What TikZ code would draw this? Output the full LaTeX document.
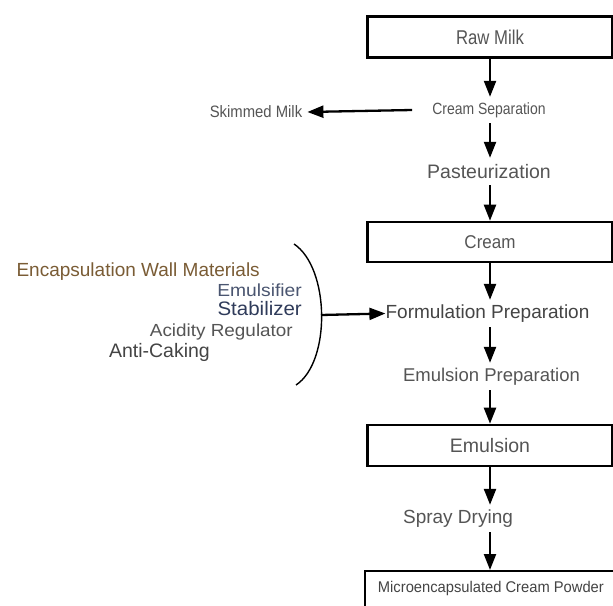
\documentclass[tikz,border=0pt]{standalone}
\usepackage{fontspec}
\setmainfont{Liberation Sans}
\usetikzlibrary{arrows.meta}
\definecolor{txt}{HTML}{555555}
\definecolor{dtxt}{HTML}{444444}
\definecolor{brownish}{HTML}{7A5C35}
\definecolor{slate}{HTML}{4A5570}
\definecolor{dslate}{HTML}{2F3B5A}
\newcommand{\fs}[1]{\fontsize{#1}{#1}\selectfont}
\begin{document}
\begin{tikzpicture}[x=1pt,y=-1pt,
  box/.style={draw=black,line width=2.6pt,minimum width=245pt,minimum height=41pt,inner sep=0pt,text=txt},
  lbl/.style={inner sep=0pt,minimum height=27pt,text=txt},
  side/.style={inner sep=0pt,anchor=east},
  arr/.style={line width=2.3pt,-{Triangle[width=12pt,length=16pt]}}]
\useasboundingbox (0,0) rectangle (613,605);
\clip (0,0) rectangle (613,605);
\fill[white] (0,0) rectangle (613,605);

\node[box] (raw) at (490,37) {\scalebox{0.88}[1.05]{\fs{19}Raw Milk}};
\node[lbl,minimum height=26pt] (cs) at (489,110) {\scalebox{0.9}[1.05]{\fs{15.5}Cream Separation}};
\node[lbl] (past) at (489,171.5) {\fs{19.5}Pasteurization};
\node[box,minimum height=40pt] (cream) at (490,242) {\scalebox{0.92}[1]{\fs{18.5}Cream}};
\node[lbl,text=dtxt] (form) at (487.5,313.5) {\fs{19}Formulation Preparation};
\node[lbl] (ep) at (491.5,376.5) {\fs{18.5}Emulsion Preparation};
\node[box] (emul) at (490,445.5) {\fs{19.5}Emulsion};
\node[lbl] (sd) at (458,518.5) {\fs{19}Spray Drying};
\node[box,line width=1.8pt,minimum width=252pt,minimum height=36pt,anchor=north west,text=dtxt] (mcp) at (364,570) {\scalebox{0.95}[1]{\fs{15.5}Microencapsulated Cream Powder}};

\node[inner sep=0pt,text=txt] (skim) at (256,112) {\scalebox{0.9}[1]{\fs{16.5}Skimmed Milk}};

\node[side,text=brownish] (ewm) at (260,272) {\fs{19}Encapsulation Wall Materials};
\node[side,text=slate] (emu) at (302,290) {\scalebox{1.1}[1]{\fs{17.5}Emulsifier}};
\node[side,text=dslate] (stab) at (302,309) {\scalebox{1.05}[1]{\fs{19.5}Stabilizer}};
\node[side,text=txt] (acid) at (293,332) {\scalebox{1.08}[1]{\fs{17.5}Acidity Regulator}};
\node[side,text=dtxt] (anti) at (210,352) {\fs{19.5}Anti-Caking};

\coordinate (btop) at (294,244);
\coordinate (bbot) at (296,385);
\coordinate (bmid) at (321,315);
\draw[line width=1.4pt] (btop) .. controls (330,268) and (331,362) .. (bbot);

\draw[arr] (raw.south) -- (raw.south |- cs.north);
\draw[arr] (raw.south |- cs.south) -- (raw.south |- past.north);
\draw[arr] (raw.south |- past.south) -- (cream.north);
\draw[arr] (cream.south) -- (cream.south |- form.north);
\draw[arr] (cream.south |- form.south) -- (cream.south |- ep.north);
\draw[arr] (cream.south |- ep.south) -- (emul.north);
\draw[arr] (emul.south) -- (emul.south |- sd.north);
\draw[arr] (emul.south |- sd.south) -- (emul.south |- mcp.north);

\draw[arr] ([xshift=-20pt]cs.west) -- ([xshift=5pt]skim.east);
\draw[arr] (bmid) -- (form.west);
\end{tikzpicture}
\end{document}
